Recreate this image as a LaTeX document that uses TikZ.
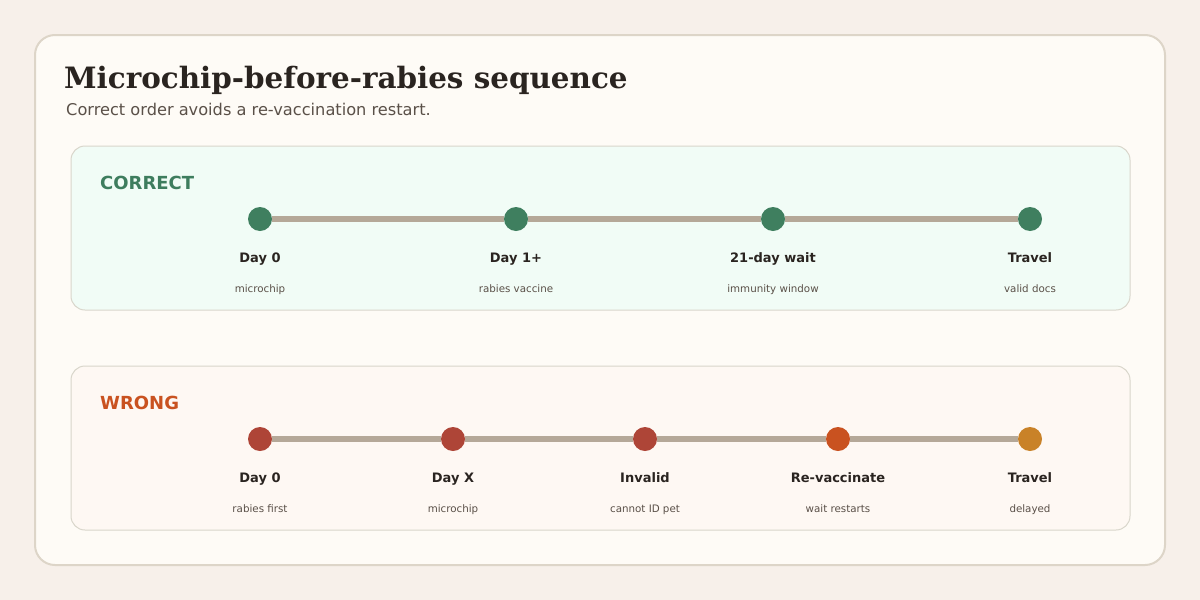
\documentclass[tikz,border=0pt]{standalone}
\usepackage{fontspec}
\setmainfont{DejaVu Sans}
\newfontfamily\titlefont{DejaVu Serif}
\usetikzlibrary{positioning}
\definecolor{pagebg}{HTML}{F7F0EA}
\definecolor{cardfill}{HTML}{FEFBF6}
\definecolor{cardline}{HTML}{DDD5C8}
\definecolor{panelline}{HTML}{D9D6CB}
\definecolor{goodfill}{HTML}{F1FCF6}
\definecolor{badfill}{HTML}{FEF8F3}
\definecolor{ink}{HTML}{2A2420}
\definecolor{muted}{HTML}{5A5048}
\definecolor{trackcol}{HTML}{B5A898}
\definecolor{goodgreen}{HTML}{3F7F5F}
\definecolor{goodhead}{HTML}{3E7D5E}
\definecolor{badred}{HTML}{AE4537}
\definecolor{badorange}{HTML}{C95220}
\definecolor{badgold}{HTML}{C98228}
\tikzset{card/.style={draw=cardline,line width=2pt,rounded corners=20pt,fill=cardfill},
    panel/.style={draw=panelline,line width=1pt,rounded corners=14pt},
    dot/.style={circle,inner sep=0,minimum size=24pt},
    track/.style={draw=trackcol,line width=6pt},
    panelhead/.style={anchor=base west,inner sep=0,font=\fontsize{18}{21}\selectfont\bfseries},
    steplabel/.style={anchor=base,inner sep=0,text=ink,font=\fontsize{13}{15}\selectfont\bfseries},
    stepnote/.style={anchor=base,inner sep=0,text=muted,font=\fontsize{10.3}{12}\selectfont}}

\begin{document}
\begin{tikzpicture}[x=1pt,y=-1pt]

\useasboundingbox [fill=pagebg] (0,0) rectangle (1200,600);
\path [card] (35,35) rectangle (1165,565);

\node (title) [anchor=base west,inner sep=0,text=ink,font=\titlefont\fontsize{29.4}{34}\selectfont\bfseries] at (64,88) {Microchip-before-rabies sequence};
\node (subtitle) [anchor=base west,inner sep=0,text=muted,font=\fontsize{16.2}{19}\selectfont] at (66,115) {Correct order avoids a re-vaccination restart.};

% correct order
\path [panel,fill=goodfill] (71,146) rectangle (1130,310);
\node (good head) [panelhead,text=goodhead] at (100,189) {CORRECT};

\node (c 1) [dot,fill=goodgreen] at ( 260,219) {};
\node (c 2) [dot,fill=goodgreen] at ( 516,219) {};
\node (c 3) [dot,fill=goodgreen] at ( 773,219) {};
\node (c 4) [dot,fill=goodgreen] at (1030,219) {};

\draw [track] (c 1) -- (c 2);
\draw [track] (c 2) -- (c 3);
\draw [track] (c 3) -- (c 4);

\node (c 1 t) [steplabel] at ( 260,262) {Day 0};
\node (c 2 t) [steplabel] at ( 516,262) {Day 1+};
\node (c 3 t) [steplabel] at ( 773,262) {21-day wait};
\node (c 4 t) [steplabel] at (1030,262) {Travel};

\node (c 1 n) [stepnote] at ( 260,292) {microchip};
\node (c 2 n) [stepnote] at ( 516,292) {rabies vaccine};
\node (c 3 n) [stepnote] at ( 773,292) {immunity window};
\node (c 4 n) [stepnote] at (1030,292) {valid docs};

% wrong order
\path [panel,fill=badfill] (71,366) rectangle (1130,530);
\node (bad head) [panelhead,text=badorange] at (100,409) {WRONG};

\node (w 1) [dot,fill=badred]    at ( 260,439) {};
\node (w 2) [dot,fill=badred]    at ( 453,439) {};
\node (w 3) [dot,fill=badred]    at ( 645,439) {};
\node (w 4) [dot,fill=badorange] at ( 838,439) {};
\node (w 5) [dot,fill=badgold]   at (1030,439) {};

\draw [track] (w 1) -- (w 2);
\draw [track] (w 2) -- (w 3);
\draw [track] (w 3) -- (w 4);
\draw [track] (w 4) -- (w 5);

\node (w 1 t) [steplabel] at ( 260,482) {Day 0};
\node (w 2 t) [steplabel] at ( 453,482) {Day X};
\node (w 3 t) [steplabel] at ( 645,482) {Invalid};
\node (w 4 t) [steplabel] at ( 838,482) {Re-vaccinate};
\node (w 5 t) [steplabel] at (1030,482) {Travel};

\node (w 1 n) [stepnote] at ( 260,512) {rabies first};
\node (w 2 n) [stepnote] at ( 453,512) {microchip};
\node (w 3 n) [stepnote] at ( 645,512) {cannot ID pet};
\node (w 4 n) [stepnote] at ( 838,512) {wait restarts};
\node (w 5 n) [stepnote] at (1030,512) {delayed};

\end{tikzpicture}
\end{document}
